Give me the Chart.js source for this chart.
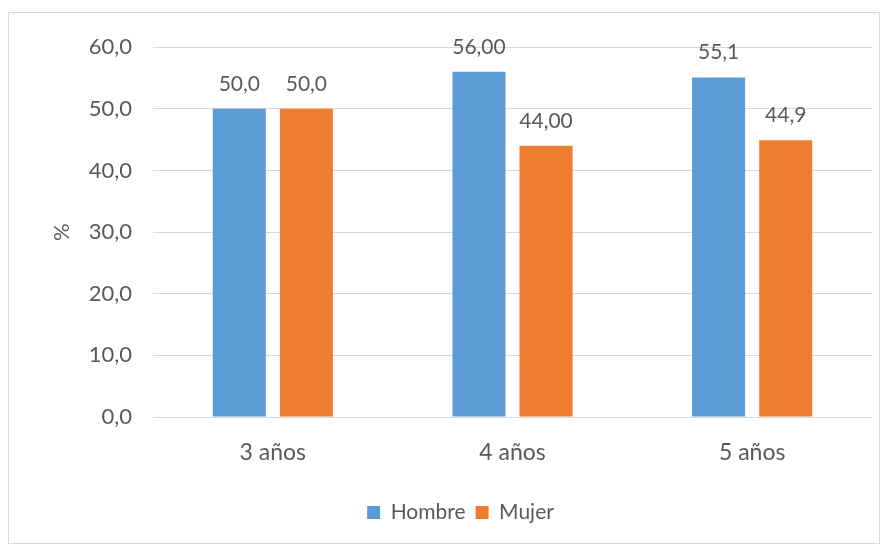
<!DOCTYPE html>
<html>
<head>
<meta charset="utf-8">
<script src="https://cdn.jsdelivr.net/npm/chart.js@4"></script>
<style>
    body { margin: 0; background: #fff; }
    #box {
        position: absolute; left: 8px; top: 12px;
        width: 870px; height: 530px;
        border: 1px solid #d9d9d9; background: #fff;
    }
</style>
</head>
<body>
<div id="box"><canvas id="chart"></canvas></div>
<script>
// Chart data
const categories = ['3 años', '4 años', '5 años'];
const hombre = [50.0, 56.0, 55.1];
const mujer = [50.0, 44.0, 44.9];
const hombreLabels = ['50,0', '56,00', '55,1'];
const mujerLabels = ['50,0', '44,00', '44,9'];
const yTicks = [0, 10, 20, 30, 40, 50, 60];

const textColor = '#595959';
const fontFamily = 'Lato, "Open Sans", sans-serif';

// draws the value text above each bar
const barLabels = {
    id: 'barLabels',
    afterDatasetsDraw(chart) {
        const ctx = chart.ctx;
        const texts = [hombreLabels, mujerLabels];
        ctx.save();
        ctx.fillStyle = textColor;
        ctx.font = '21px ' + fontFamily;
        ctx.textAlign = 'center';
        ctx.textBaseline = 'middle';
        chart.data.datasets.forEach((ds, i) => {
            chart.getDatasetMeta(i).data.forEach((bar, j) => {
                ctx.fillText(texts[i][j], bar.x, bar.y - 25);
            });
        });
        ctx.restore();
    }
};

const ctx = document.getElementById('chart').getContext('2d');
const chart = new Chart(ctx, {
    type: 'bar',
    data: {
        labels: categories,
        datasets: [
            { label: 'Hombre', data: hombre, backgroundColor: '#5B9BD5',
              categoryPercentage: 0.56, barPercentage: 0.79 },
            { label: 'Mujer', data: mujer, backgroundColor: '#ED7D31',
              categoryPercentage: 0.56, barPercentage: 0.79 }
        ]
    },
    options: {
        responsive: true,
        maintainAspectRatio: false,
        animation: false,
        layout: { padding: { left: 40, right: 7, top: 34, bottom: 10 } },
        plugins: {
            tooltip: { enabled: false },
            legend: {
                position: 'bottom',
                labels: {
                    color: textColor,
                    font: { family: fontFamily, size: 21 },
                    boxWidth: 13,
                    boxHeight: 13,
                    padding: 10
                }
            }
        },
        scales: {
            x: {
                grid: { display: false },
                border: { display: false },
                ticks: { color: textColor, font: { family: fontFamily, size: 23 }, padding: 14 },
                afterFit(scale) { scale.height = 75; }
            },
            y: {
                min: 0,
                max: 60,
                afterBuildTicks(scale) { scale.ticks = yTicks.map(v => ({ value: v })); },
                grid: { color: '#d9d9d9', drawTicks: false },
                border: { display: false },
                ticks: {
                    color: textColor,
                    font: { family: fontFamily, size: 22 },
                    padding: 21,
                    callback: v => v.toFixed(1).replace('.', ',')
                },
                title: {
                    display: true,
                    text: '%',
                    color: textColor,
                    font: { family: fontFamily, size: 22 },
                    padding: 0
                },
                afterFit(scale) { scale.width = 104; }
            }
        }
    },
    plugins: [barLabels]
});
</script>
</body>
</html>
